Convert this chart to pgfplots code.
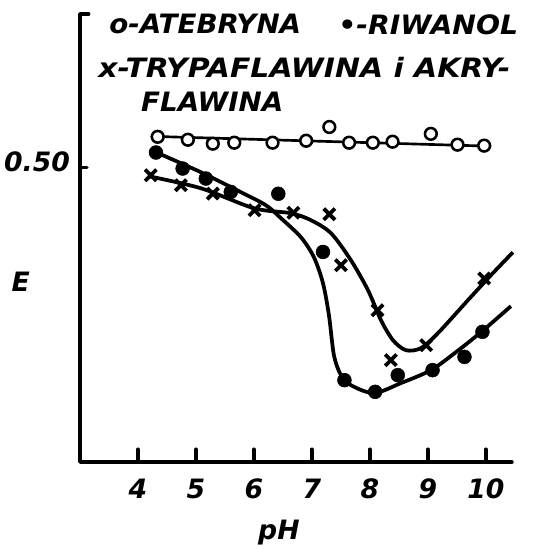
\documentclass[border=0pt]{standalone}
\usepackage{fontspec}
\setmainfont{DejaVu Sans}
\usepackage{pgfplots}
\pgfplotsset{compat=1.18}
\newcommand\hw{\fontsize{20}{22}\selectfont\bfseries\itshape}
\begin{document}
\begin{tikzpicture}
\path[use as bounding box] (-60pt,-65.25pt) rectangle (339pt,346.5pt);
\begin{axis}[
  at={(0,0)}, anchor=south west,
  scale only axis, width=324pt, height=336pt,
  xmin=3.0, xmax=10.45, ymin=0.20, ymax=0.656,
  axis line style={draw=none},
  xtick pos=left, ytick pos=left,
  major tick length=0pt,
  xtick={4,5,6,7,8,9,10}, xticklabels={4,5,6,7,8,9,10},
  ytick={0.50}, yticklabels={0.50},
  xticklabel style={font=\hw, yshift=-9pt},
  yticklabel style={font=\hw, xshift=-4pt, yshift=4pt},
  /pgf/number format/assume math mode=true,
  clip=false,
]
% Atebryna
\addplot[line width=2pt, black] coordinates {(4.22,0.5315) (10.09,0.5214)};
\addplot[only marks, mark=*, mark size=4.4pt, line width=1.9pt, draw=black, fill=white] coordinates {
 (4.34,0.531) (4.86,0.528) (5.29,0.524) (5.66,0.525) (6.32,0.525) (6.90,0.527)
 (7.30,0.541) (7.64,0.525) (8.05,0.525) (8.39,0.526) (9.05,0.534) (9.51,0.523) (9.97,0.522)};
% Riwanol curve
\addplot[line width=2.8pt, black, smooth, tension=0.5] coordinates {
 (4.31,0.5153) (5.086,0.4949) (5.776,0.4746) (6.207,0.4613) (6.466,0.4481) (6.81,0.4288)
 (7.034,0.4084) (7.19,0.3820) (7.293,0.3494) (7.379,0.3087) (7.50,0.2884) (7.672,0.2782)
 (8.069,0.2701) (8.534,0.2803) (9.052,0.2935) (9.483,0.3118) (9.914,0.3321) (10.431,0.3586)};
\addplot[only marks, mark=*, mark size=5.2pt, black] coordinates {
 (4.31,0.5150) (4.77,0.4987) (5.17,0.4885) (5.60,0.4749) (6.42,0.4730) (7.19,0.4138)
 (7.56,0.2833) (8.09,0.2714) (8.48,0.2884) (9.08,0.2935) (9.63,0.3070) (9.94,0.3325)};
% Trypaflawina
\addplot[line width=2.8pt, black, smooth, tension=0.5] coordinates {
 (4.19,0.4908) (5.086,0.4786) (6.0,0.4583) (6.638,0.4532) (6.983,0.4461) (7.328,0.4329)
 (7.672,0.4054) (7.966,0.3749) (8.19,0.3444) (8.397,0.3240) (8.621,0.3138) (8.879,0.3159)
 (9.172,0.3311) (9.69,0.3647) (10.086,0.3901) (10.466,0.4135)};
\addplot[only marks, mark=x, mark size=6pt, line width=2.8pt, black] coordinates {
 (4.22,0.4919) (4.74,0.4817) (5.29,0.4732) (6.01,0.4563) (6.68,0.4537) (7.30,0.4522)
 (7.50,0.4003) (8.13,0.3545) (8.36,0.3037) (8.97,0.3189) (9.97,0.3868)};
% axis lines and ticks
\draw[line width=2.6pt, line cap=round, line join=round] (rel axis cs:0.02,1) -- (rel axis cs:0,1) -- (rel axis cs:0,0) -- (rel axis cs:1,0);
\draw[line width=2.6pt, line cap=round] (axis cs:4,0.2) -- (axis cs:4,0.213);
\draw[line width=2.6pt, line cap=round] (axis cs:5,0.2) -- (axis cs:5,0.213);
\draw[line width=2.6pt, line cap=round] (axis cs:6,0.2) -- (axis cs:6,0.213);
\draw[line width=2.6pt, line cap=round] (axis cs:7,0.2) -- (axis cs:7,0.213);
\draw[line width=2.6pt, line cap=round] (axis cs:8,0.2) -- (axis cs:8,0.213);
\draw[line width=2.6pt, line cap=round] (axis cs:9,0.2) -- (axis cs:9,0.213);
\draw[line width=2.6pt, line cap=round] (axis cs:10,0.2) -- (axis cs:10,0.213);
\draw[line width=2.6pt, line cap=round] (axis cs:3.0,0.50) -- (axis cs:3.12,0.50);
% legend text
\node[anchor=west, font=\hw, inner sep=0pt, xscale=1.04, transform shape] at (axis cs:3.50,0.6455) {o-ATEBRYNA};
\node[anchor=west, font=\hw, inner sep=0pt, xscale=1.06, transform shape] at (axis cs:7.45,0.6455) {•-RIWANOL};
\node[anchor=west, font=\hw, inner sep=0pt, xscale=1.12, transform shape] at (axis cs:3.31,0.6017) {x-TRYPAFLAWINA i AKRY-};
\node[anchor=west, font=\hw, inner sep=0pt, xscale=1.04, transform shape] at (axis cs:4.05,0.567) {FLAWINA};
\node[font=\hw] at (axis cs:1.98,0.383) {E};
\node[font=\hw] at (axis cs:6.43,0.128) {pH};
\end{axis}
\end{tikzpicture}
\end{document}
